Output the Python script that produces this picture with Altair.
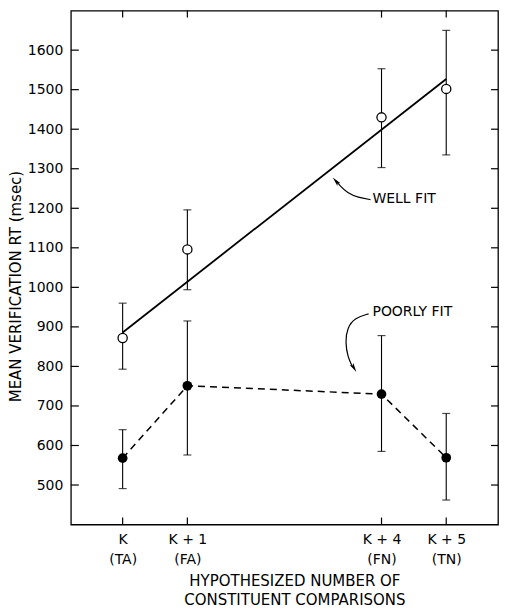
import altair as alt
import pandas as pd

# ---------------- data ----------------
xs = [0, 1, 4, 5]
x_labels = [["K", "(TA)"], ["K + 1", "(FA)"], ["K + 4", "(FN)"], ["K + 5", "(TN)"]]
y_ticks = [500, 600, 700, 800, 900, 1000, 1100, 1200, 1300, 1400, 1500, 1600]

well_mean = [872, 1096, 1430, 1502]
well_low = [793, 994, 1303, 1335]
well_high = [960, 1196, 1553, 1650]

poor_mean = [568, 751, 730, 569]
poor_low = [491, 576, 585, 462]
poor_high = [640, 915, 878, 681]

fit_x = [0, 5]
fit_y = [886, 1527]

# annotations (data units)
well_text = ("WELL FIT", 3.86, 1224)
poor_text = ("POORLY FIT", 3.86, 938)
well_arrow_x = [3.83, 3.64, 3.47, 3.36, 3.29]
well_arrow_y = [1222, 1227, 1239, 1257, 1270]
well_head = (3.30, 1268, 319)
poor_arrow_x = [3.80, 3.59, 3.47, 3.44, 3.48, 3.55]
poor_arrow_y = [933, 923, 898, 861, 823, 800]
poor_head = (3.57, 797, 149)

W, H = 428, 515
FONT = "DejaVu Sans"

xscale = alt.Scale(domain=[-0.8, 5.8], nice=False, zero=False)
yscale = alt.Scale(domain=[400, 1700], nice=False, zero=False)

# label expression for multi-line x labels
expr = "''"
for v, lab in reversed(list(zip(xs, x_labels))):
    arr = "[" + ",".join("'" + s + "'" for s in lab) + "]"
    expr = f"datum.value == {v} ? {arr} : ({expr})"

df_well = pd.DataFrame({"x": xs, "m": well_mean, "lo": well_low, "hi": well_high})
df_poor = pd.DataFrame({"x": xs, "m": poor_mean, "lo": poor_low, "hi": poor_high})
df_fit = pd.DataFrame({"x": fit_x, "y": fit_y})
df_xt = pd.DataFrame({"x": xs})
df_yt = pd.DataFrame({"y": y_ticks})

X = alt.X("x:Q", scale=xscale,
          axis=alt.Axis(values=xs, labelExpr=expr, ticks=False, domain=False, grid=False,
                        labelFont=FONT, labelFontSize=14, labelColor="black",
                        labelPadding=8, labelLineHeight=20,
                        title=["HYPOTHESIZED NUMBER OF", "CONSTITUENT COMPARISONS"],
                        titleFont=FONT, titleFontSize=15, titleFontWeight="normal",
                        titleColor="black", titlePadding=7, titleLineHeight=19,
                        titleX=224, labelFlush=False))

base_y_axis = alt.Axis(values=y_ticks, format="d", ticks=False, domain=False, grid=False,
                       labelFont=FONT, labelFontSize=14, labelColor="black",
                       labelPadding=8, title="MEAN VERIFICATION RT (msec)",
                       titleFont=FONT, titleFontSize=15, titleFontWeight="normal",
                       titleColor="black", titlePadding=4, titleY=276)

cap = dict(color="black", orient="horizontal", size=8, thickness=1.2)

bars_w = alt.Chart(df_well).mark_rule(color="black", strokeWidth=1.1).encode(
    x=X, y=alt.Y("lo:Q", scale=yscale, axis=base_y_axis), y2="hi:Q")
caps_w_lo = alt.Chart(df_well).mark_tick(**cap).encode(x="x:Q", y="lo:Q")
caps_w_hi = alt.Chart(df_well).mark_tick(**cap).encode(x="x:Q", y="hi:Q")
bars_p = alt.Chart(df_poor).mark_rule(color="black", strokeWidth=1.1).encode(
    x="x:Q", y="lo:Q", y2="hi:Q")
caps_p_lo = alt.Chart(df_poor).mark_tick(**cap).encode(x="x:Q", y="lo:Q")
caps_p_hi = alt.Chart(df_poor).mark_tick(**cap).encode(x="x:Q", y="hi:Q")

fit_line = alt.Chart(df_fit).mark_line(color="black", strokeWidth=1.8).encode(x="x:Q", y="y:Q")
poor_line = alt.Chart(df_poor).mark_line(color="black", strokeWidth=1.5, strokeDash=[7, 5]).encode(
    x="x:Q", y="m:Q")

well_pts = alt.Chart(df_well).mark_point(shape="circle", filled=True, fill="white", stroke="black",
                                         strokeWidth=1.3, size=85, opacity=1).encode(x="x:Q", y="m:Q")
poor_pts = alt.Chart(df_poor).mark_point(shape="circle", filled=True, color="black", size=95,
                                         opacity=1).encode(x="x:Q", y="m:Q")

# inward ticks on all four sides
t_bottom = alt.Chart(df_xt).mark_rule(color="black", strokeWidth=1.2).encode(
    x="x:Q", y=alt.value(H), y2=alt.value(H - 7))
t_top = alt.Chart(df_xt).mark_rule(color="black", strokeWidth=1.2).encode(
    x="x:Q", y=alt.value(0), y2=alt.value(7))
t_left = alt.Chart(df_yt).mark_rule(color="black", strokeWidth=1.2).encode(
    y="y:Q", x=alt.value(0), x2=alt.value(8))
t_right = alt.Chart(df_yt).mark_rule(color="black", strokeWidth=1.2).encode(
    y="y:Q", x=alt.value(W), x2=alt.value(W - 7))

# annotations
df_txt = pd.DataFrame({"t": [well_text[0], poor_text[0]],
                       "x": [well_text[1], poor_text[1]],
                       "y": [well_text[2], poor_text[2]]})
txt = alt.Chart(df_txt).mark_text(align="left", baseline="middle", font=FONT, fontSize=14,
                                  color="black").encode(x="x:Q", y="y:Q", text="t:N")

df_wa = pd.DataFrame({"x": well_arrow_x, "y": well_arrow_y, "o": range(len(well_arrow_x))})
df_pa = pd.DataFrame({"x": poor_arrow_x, "y": poor_arrow_y, "o": range(len(poor_arrow_x))})
wa = alt.Chart(df_wa).mark_line(color="black", strokeWidth=1.2, interpolate="basis").encode(
    x="x:Q", y="y:Q", order="o:Q")
pa = alt.Chart(df_pa).mark_line(color="black", strokeWidth=1.2, interpolate="basis").encode(
    x="x:Q", y="y:Q", order="o:Q")

arrow_shape = "M0,-1L0.4,0.8L0,0.4L-0.4,0.8Z"
df_heads = pd.DataFrame({"x": [well_head[0], poor_head[0]], "y": [well_head[1], poor_head[1]],
                         "a": [well_head[2], poor_head[2]]})
heads = alt.Chart(df_heads).mark_point(shape=arrow_shape, filled=True, color="black", size=110,
                                       opacity=1).encode(
    x="x:Q", y="y:Q", angle=alt.Angle("a:Q", scale=None))

chart = alt.layer(
    bars_w, caps_w_lo, caps_w_hi, bars_p, caps_p_lo, caps_p_hi,
    fit_line, poor_line, well_pts, poor_pts,
    t_bottom, t_top, t_left, t_right,
    wa, pa, heads, txt
).properties(width=W, height=H, background="white",
             padding={"left": 0, "top": 1, "right": 0, "bottom": 0}
).configure_view(stroke="black", strokeWidth=1.3)

chart.save("out.html", embed_options={"renderer": "svg", "actions": False})
